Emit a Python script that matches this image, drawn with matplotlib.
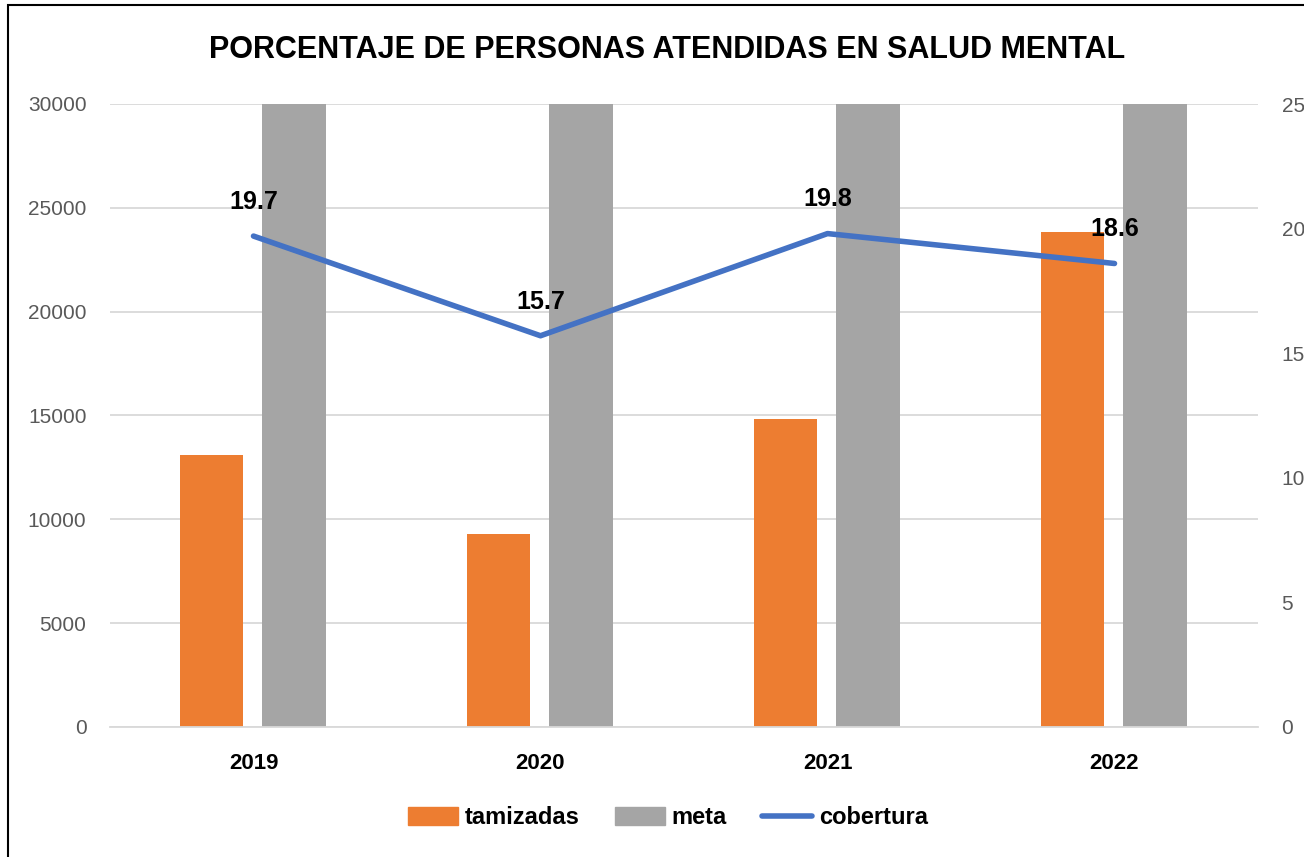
import numpy as np
import matplotlib.pyplot as plt
from matplotlib.patches import Rectangle
from matplotlib.lines import Line2D

plt.rcParams['font.family'] = ['Liberation Sans', 'DejaVu Sans']

years = ['2019', '2020', '2021', '2022']
tamizadas = [13100, 9300, 14830, 23840]
meta = [66500, 59240, 74900, 128170]
cobertura = [19.7, 15.7, 19.8, 18.6]

orange = '#ED7D31'
gray = '#A5A5A5'
blue = '#4472C4'
tick_gray = '#595959'

fig = plt.figure(figsize=(13.04, 8.57), dpi=100)

# outer chart frame (runs off the right and bottom edges)
fig.patches.append(Rectangle((8 / 1304, -0.05), 1.2, 1 - 5 / 857 + 0.05,
                             transform=fig.transFigure, fill=False,
                             edgecolor='black', linewidth=1.5))

ax = fig.add_axes([110 / 1304, 1 - 727 / 857, 1148 / 1304, 623 / 857])
x = np.arange(len(years))
w = 0.222
ax.bar(x - 0.146, tamizadas, w, color=orange, zorder=2)
ax.bar(x + 0.14, meta, w, color=gray, zorder=2)
ax.set_ylim(0, 30000)
ax.set_xlim(-0.5, 3.5)
ax.set_yticks(np.arange(0, 30001, 5000))
ax.yaxis.grid(True, color='#D9D9D9', linewidth=1.3, zorder=0)
ax.set_axisbelow(True)
for s in ax.spines.values():
    s.set_visible(False)
ax.spines['bottom'].set_visible(True)
ax.spines['bottom'].set_color('#D9D9D9')
ax.spines['bottom'].set_linewidth(1.3)
ax.tick_params(axis='y', length=0, pad=17, labelsize=15, labelcolor=tick_gray)
ax.tick_params(axis='x', length=0, pad=19, labelsize=16)
ax.set_xticks(x)
ax.set_xticklabels(years, fontweight='bold')

ax2 = ax.twinx()
ax2.plot(x, cobertura, color=blue, linewidth=4, solid_capstyle='round', zorder=3)
ax2.set_ylim(0, 25)
ax2.set_yticks(np.arange(0, 26, 5))
for s in ax2.spines.values():
    s.set_visible(False)
ax2.tick_params(axis='y', length=0, pad=17, labelsize=15, labelcolor=tick_gray)
for xi, v in zip(x, cobertura):
    ax2.annotate(f'{v}', (xi, v), xytext=(0, 16), textcoords='offset points',
                 ha='center', va='bottom', fontsize=18, fontweight='bold')

fig.text(667 / 1304, 1 - 50 / 857, 'PORCENTAJE DE PERSONAS ATENDIDAS EN SALUD MENTAL',
         ha='center', va='center', fontsize=22, fontweight='bold')

handles = [Rectangle((0, 0), 1, 1, color=orange),
           Rectangle((0, 0), 1, 1, color=gray),
           Line2D([0], [0], color=blue, linewidth=4, solid_capstyle='round')]
fig.legend(handles, ['tamizadas', 'meta', 'cobertura'], loc='center',
           bbox_to_anchor=(668 / 1304, 1 - 818 / 857), ncol=3, frameon=False,
           prop={'size': 17, 'weight': 'bold'}, handlelength=2.1,
           handleheight=0.8, handletextpad=0.3, columnspacing=1.5)

fig.savefig('out.png', dpi=100)
